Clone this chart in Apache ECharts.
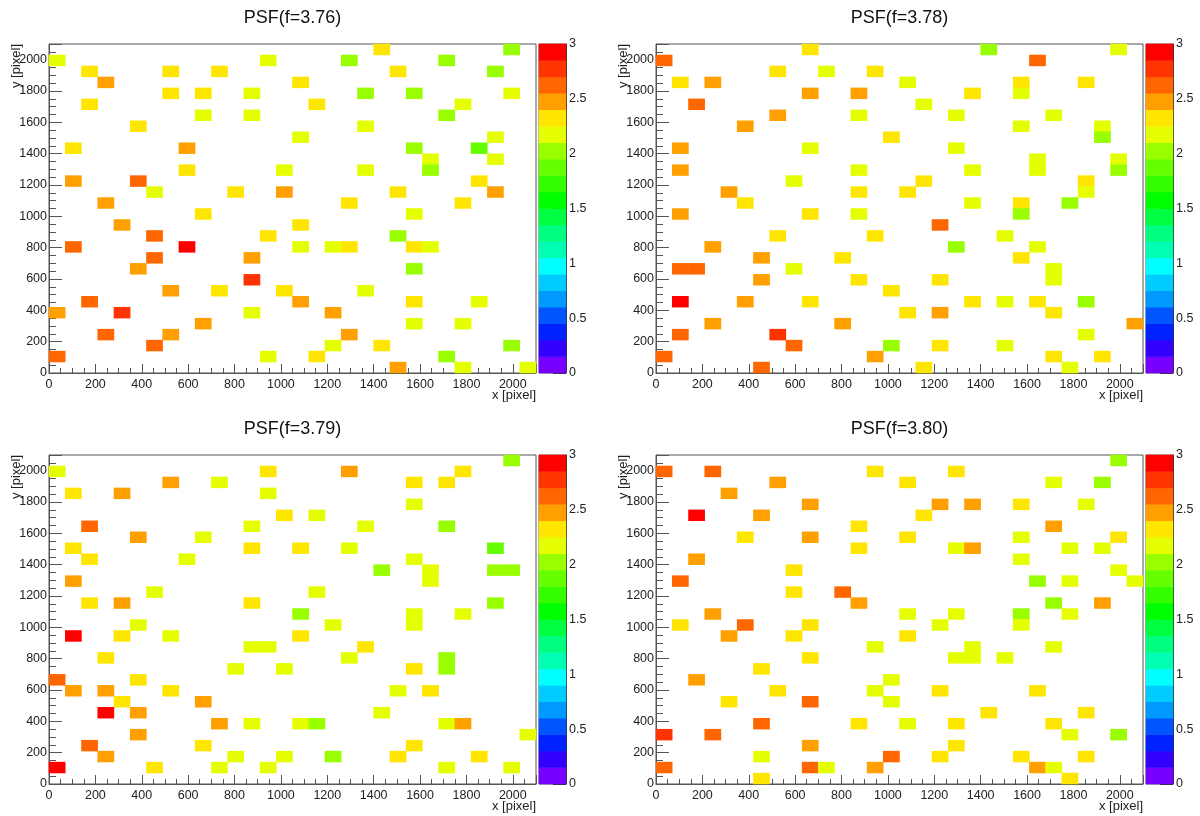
<!DOCTYPE html>
<html>
<head>
<meta charset="utf-8">
<script src="https://cdn.jsdelivr.net/npm/echarts@6/dist/echarts.min.js"></script>
<style>
  html, body { margin: 0; padding: 0; background: #fff; }
  #main { width: 1200px; height: 816px; }
</style>
</head>
<body>
<div id="main"></div>
<script>
// 30 x 30 bins of 70 pixels each, covering 0..2100 on both axes
const bins = Array.from({ length: 30 }, (_, i) => i)

// [x bin, y bin, value] for every filled bin
const cells376 = [
  [20,29,2.33],[28,29,2.03],
  [0,28,2.18],[13,28,2.18],[18,28,2.03],[24,28,2.03],
  [2,27,2.33],[7,27,2.33],[10,27,2.33],[21,27,2.33],[27,27,2.03],
  [3,26,2.48],[15,26,2.33],
  [7,25,2.33],[9,25,2.33],[12,25,2.18],[19,25,2.03],[22,25,2.03],[28,25,2.18],
  [2,24,2.33],[16,24,2.33],[25,24,2.18],
  [9,23,2.18],[12,23,2.18],[24,23,2.03],
  [5,22,2.33],[19,22,2.18],
  [15,21,2.18],[27,21,2.18],
  [1,20,2.33],[8,20,2.48],[22,20,2.03],[26,20,1.88],
  [23,19,2.18],[27,19,2.18],
  [8,18,2.33],[14,18,2.18],[19,18,2.18],[23,18,2.03],
  [1,17,2.48],[5,17,2.63],[26,17,2.33],
  [6,16,2.18],[11,16,2.33],[14,16,2.48],[21,16,2.33],[27,16,2.48],
  [3,15,2.48],[18,15,2.33],[25,15,2.33],
  [9,14,2.33],[22,14,2.18],
  [4,13,2.48],[15,13,2.33],
  [6,12,2.63],[13,12,2.33],[21,12,2.03],
  [1,11,2.63],[8,11,2.93],[15,11,2.18],[17,11,2.18],[18,11,2.33],[22,11,2.33],[23,11,2.18],
  [6,10,2.63],[12,10,2.48],
  [5,9,2.48],[22,9,2.03],
  [12,8,2.78],
  [7,7,2.48],[10,7,2.33],[14,7,2.33],[19,7,2.18],
  [2,6,2.63],[15,6,2.48],[22,6,2.33],[26,6,2.18],
  [0,5,2.48],[4,5,2.78],[12,5,2.18],[17,5,2.48],
  [9,4,2.48],[22,4,2.18],[25,4,2.18],
  [3,3,2.63],[7,3,2.48],[18,3,2.48],
  [6,2,2.63],[17,2,2.18],[20,2,2.33],[28,2,2.03],
  [0,1,2.63],[13,1,2.18],[16,1,2.33],[24,1,2.03],
  [21,0,2.48],[25,0,2.18],[29,0,2.18]
]

const cells378 = [
  [9,29,2.33],[20,29,2.03],[28,29,2.18],
  [0,28,2.63],[23,28,2.63],
  [7,27,2.33],[10,27,2.18],[13,27,2.33],
  [1,26,2.33],[3,26,2.48],[15,26,2.18],[22,26,2.33],[26,26,2.33],
  [9,25,2.48],[12,25,2.48],[19,25,2.33],[22,25,2.18],
  [2,24,2.63],[16,24,2.18],
  [7,23,2.48],[12,23,2.18],[18,23,2.18],[24,23,2.18],
  [5,22,2.48],[22,22,2.18],[27,22,2.18],
  [14,21,2.33],[27,21,2.03],
  [1,20,2.48],[9,20,2.18],[18,20,2.18],
  [23,19,2.18],[28,19,2.18],
  [1,18,2.48],[12,18,2.18],[19,18,2.18],[23,18,2.18],[28,18,2.03],
  [8,17,2.18],[16,17,2.33],[26,17,2.33],
  [4,16,2.48],[12,16,2.33],[15,16,2.33],[26,16,2.18],
  [5,15,2.33],[19,15,2.18],[22,15,2.33],[25,15,2.03],
  [1,14,2.48],[9,14,2.33],[12,14,2.18],[22,14,2.03],
  [17,13,2.63],
  [7,12,2.33],[13,12,2.33],[21,12,2.18],
  [3,11,2.48],[18,11,2.03],[23,11,2.18],
  [6,10,2.48],[11,10,2.33],[22,10,2.33],
  [1,9,2.63],[2,9,2.63],[8,9,2.18],[24,9,2.18],
  [6,8,2.48],[12,8,2.33],[17,8,2.33],[24,8,2.18],
  [14,7,2.33],
  [1,6,2.93],[5,6,2.48],[9,6,2.33],[19,6,2.33],[21,6,2.18],[23,6,2.33],[26,6,2.03],
  [15,5,2.33],[17,5,2.48],[24,5,2.33],
  [3,4,2.48],[11,4,2.48],[29,4,2.48],
  [1,3,2.63],[7,3,2.78],[26,3,2.18],
  [8,2,2.63],[14,2,2.03],[17,2,2.33],[21,2,2.18],
  [0,1,2.63],[13,1,2.48],[24,1,2.33],[27,1,2.33],
  [6,0,2.63],[16,0,2.33],[25,0,2.18]
]

const cells379 = [
  [28,29,2.03],
  [0,28,2.18],[13,28,2.33],[18,28,2.48],[25,28,2.33],
  [7,27,2.48],[10,27,2.18],[22,27,2.33],[24,27,2.33],
  [1,26,2.33],[4,26,2.48],[13,26,2.18],
  [22,25,2.18],
  [14,24,2.33],[16,24,2.18],
  [2,23,2.63],[12,23,2.18],[19,23,2.18],[24,23,2.03],
  [5,22,2.48],[9,22,2.18],
  [1,21,2.33],[12,21,2.33],[15,21,2.33],[18,21,2.18],[27,21,1.88],
  [2,20,2.33],[8,20,2.18],[22,20,2.18],
  [20,19,2.03],[23,19,2.18],[27,19,2.03],[28,19,2.03],
  [1,18,2.48],[23,18,2.18],
  [6,17,2.18],[16,17,2.18],
  [2,16,2.33],[4,16,2.48],[12,16,2.33],[27,16,2.03],
  [15,15,2.03],[22,15,2.18],[25,15,2.18],
  [5,14,2.18],[17,14,2.18],[22,14,2.18],
  [1,13,2.93],[4,13,2.33],[7,13,2.18],[15,13,2.33],
  [12,12,2.18],[13,12,2.18],[19,12,2.33],
  [3,11,2.33],[18,11,2.18],[24,11,2.03],
  [11,10,2.18],[14,10,2.18],[22,10,2.33],[24,10,2.03],
  [0,9,2.63],[5,9,2.33],
  [1,8,2.48],[3,8,2.48],[7,8,2.33],[21,8,2.18],[23,8,2.33],
  [4,7,2.33],[9,7,2.48],
  [3,6,2.93],[5,6,2.48],[20,6,2.18],
  [10,5,2.48],[12,5,2.18],[15,5,2.18],[16,5,2.03],[24,5,2.18],[25,5,2.48],
  [5,4,2.48],[29,4,2.18],
  [2,3,2.63],[9,3,2.33],[22,3,2.33],
  [3,2,2.48],[11,2,2.18],[14,2,2.18],[17,2,2.03],[21,2,2.33],[26,2,2.33],
  [0,1,2.93],[6,1,2.33],[10,1,2.18],[13,1,2.18],[24,1,2.18],[28,1,2.18]
]

const cells380 = [
  [28,29,2.03],
  [0,28,2.63],[3,28,2.63],[13,28,2.33],[18,28,2.33],
  [7,27,2.48],[15,27,2.33],[24,27,2.18],[27,27,2.03],
  [4,26,2.48],
  [9,25,2.48],[17,25,2.48],[19,25,2.48],[22,25,2.33],[26,25,2.18],
  [2,24,2.93],[6,24,2.48],[16,24,2.33],
  [12,23,2.33],[24,23,2.48],
  [5,22,2.33],[9,22,2.48],[15,22,2.33],[22,22,2.18],[28,22,2.33],
  [12,21,2.33],[18,21,2.18],[19,21,2.48],[25,21,2.18],[27,21,2.18],
  [2,20,2.48],[22,20,2.18],
  [8,19,2.33],[28,19,2.18],
  [1,18,2.63],[23,18,2.03],[25,18,2.18],[29,18,2.18],
  [8,17,2.33],[11,17,2.63],
  [12,16,2.48],[24,16,2.03],[27,16,2.48],
  [3,15,2.48],[15,15,2.18],[18,15,2.18],[22,15,2.03],[25,15,2.18],
  [1,14,2.33],[5,14,2.63],[9,14,2.33],[17,14,2.18],[22,14,2.18],
  [4,13,2.48],[8,13,2.33],[15,13,2.33],
  [13,12,2.18],[19,12,2.18],[24,12,2.18],
  [9,11,2.33],[18,11,2.18],[19,11,2.18],[21,11,2.18],
  [6,10,2.33],
  [2,9,2.48],[14,9,2.18],
  [7,8,2.33],[13,8,2.18],[17,8,2.33],[23,8,2.33],
  [4,7,2.33],[9,7,2.63],[14,7,2.18],
  [20,6,2.33],[26,6,2.33],
  [6,5,2.63],[12,5,2.33],[15,5,2.18],[18,5,2.33],[24,5,2.33],
  [0,4,2.78],[3,4,2.63],[25,4,2.18],[28,4,2.03],
  [9,3,2.48],[18,3,2.33],
  [6,2,2.18],[14,2,2.63],[17,2,2.33],[22,2,2.33],[26,2,2.33],
  [0,1,2.63],[9,1,2.63],[10,1,2.18],[13,1,2.48],[23,1,2.48],[24,1,2.18],
  [6,0,2.33],[25,0,2.33]
]

const titles = ['PSF(f=3.76)', 'PSF(f=3.78)', 'PSF(f=3.79)', 'PSF(f=3.80)']
const panelCells = [cells376, cells378, cells379, cells380]

// 20 palette bands from 0 to 3 (bottom to top)
const bandStep = 0.15
const bandColors = [
  '#7700ff', '#3300ff', '#0022ff', '#0055ff', '#0099ff',
  '#00ccff', '#00ffff', '#00ffb3', '#00ff80', '#00ff40',
  '#00ff00', '#33ff00', '#66ff00', '#99ff00', '#e6ff00',
  '#ffe600', '#ffa000', '#ff6600', '#ff3300', '#ff0000'
]

const font = 'Liberation Sans, Arial, sans-serif'
const frameColor = '#555'
const textColor = '#222'

// layout of the four pads
const pads = [
  { left: 49, top: 44 },
  { left: 656, top: 44 },
  { left: 49, top: 455 },
  { left: 656, top: 455 }
]
const plotW = 487
const plotH = 329

const grid = []
const xAxis = []
const yAxis = []
const series = []
const title = []
const graphic = []

const plain = v => String(v)

pads.forEach((p, k) => {
  const gMain = grid.length
  grid.push({ left: p.left, top: p.top, width: plotW, height: plotH,
    show: true, borderColor: frameColor, borderWidth: 1, backgroundColor: 'transparent' })
  const gBar = grid.length
  grid.push({ left: p.left + plotW + 3, top: p.top, width: 27, height: plotH,
    show: true, borderColor: frameColor, borderWidth: 1, backgroundColor: 'transparent' })

  // visible value axes
  xAxis.push({
    type: 'value', gridIndex: gMain, min: 0, max: 2100, interval: 200,
    axisLine: { show: true, lineStyle: { color: frameColor } },
    axisTick: { show: true, inside: true, length: 9, lineStyle: { color: frameColor } },
    minorTick: { show: true, splitNumber: 4, length: 5, lineStyle: { color: frameColor } },
    splitLine: { show: false },
    axisLabel: { showMaxLabel: false, fontSize: 12.5, color: textColor, fontFamily: font, margin: 5, formatter: plain }
  })
  const xCat = xAxis.length
  xAxis.push({ type: 'category', gridIndex: gMain, data: bins, show: false })
  const xBar = xAxis.length
  xAxis.push({ type: 'category', gridIndex: gBar, data: ['z'], show: false })

  yAxis.push({
    type: 'value', gridIndex: gMain, min: 0, max: 2100, interval: 200,
    axisLine: { show: true, lineStyle: { color: frameColor } },
    axisTick: { show: true, inside: true, length: 13, lineStyle: { color: frameColor } },
    minorTick: { show: true, splitNumber: 4, length: 7, lineStyle: { color: frameColor } },
    splitLine: { show: false },
    axisLabel: { showMaxLabel: false, fontSize: 12.5, color: textColor, fontFamily: font, margin: 2, formatter: plain }
  })
  const yCat = yAxis.length
  yAxis.push({ type: 'category', gridIndex: gMain, data: bins, show: false })
  const yBand = yAxis.length
  yAxis.push({ type: 'category', gridIndex: gBar, data: bandColors.map((c, i) => i), show: false })
  yAxis.push({
    type: 'value', gridIndex: gBar, position: 'right', min: 0, max: 3, interval: 0.5,
    axisLine: { show: true, lineStyle: { color: '#333' } },
    axisTick: { show: true, inside: true, length: 13, lineStyle: { color: '#333' } },
    splitLine: { show: false },
    axisLabel: { fontSize: 12.5, color: textColor, fontFamily: font, margin: 3, formatter: plain }
  })

  series.push({
    type: 'heatmap', xAxisIndex: xCat, yAxisIndex: yCat,
    data: panelCells[k], emphasis: { disabled: true }
  })
  series.push({
    type: 'heatmap', xAxisIndex: xBar, yAxisIndex: yBand,
    data: bandColors.map((c, i) => [0, i, (i + 0.5) * bandStep]),
    emphasis: { disabled: true }
  })

  title.push({
    text: titles[k], left: p.left + plotW / 2, top: p.top - 35, textAlign: 'center', padding: 0,
    textStyle: { fontSize: 18, fontWeight: 'normal', color: '#111', fontFamily: font }
  })
  graphic.push({
    type: 'text', x: p.left + plotW, y: p.top + plotH + 22,
    style: { text: 'x [pixel]', align: 'right', verticalAlign: 'middle',
      fontSize: 13, fill: textColor, fontFamily: font }
  })
  graphic.push({
    type: 'text', x: p.left - 33, y: p.top, rotation: Math.PI / 2,
    style: { text: 'y [pixel]', align: 'right', verticalAlign: 'middle',
      fontSize: 13, fill: textColor, fontFamily: font }
  })
})

const chart = echarts.init(document.getElementById('main'))
chart.setOption({
  animation: false,
  backgroundColor: '#fff',
  title,
  grid,
  xAxis,
  yAxis,
  graphic,
  visualMap: {
    type: 'piecewise', show: false, dimension: 2,
    seriesIndex: series.map((s, i) => i),
    pieces: bandColors.map((c, i) => ({ gte: i * bandStep, lt: (i + 1) * bandStep + (i === 19 ? 0.01 : 0), color: c }))
  },
  series
})
</script>
</body>
</html>
